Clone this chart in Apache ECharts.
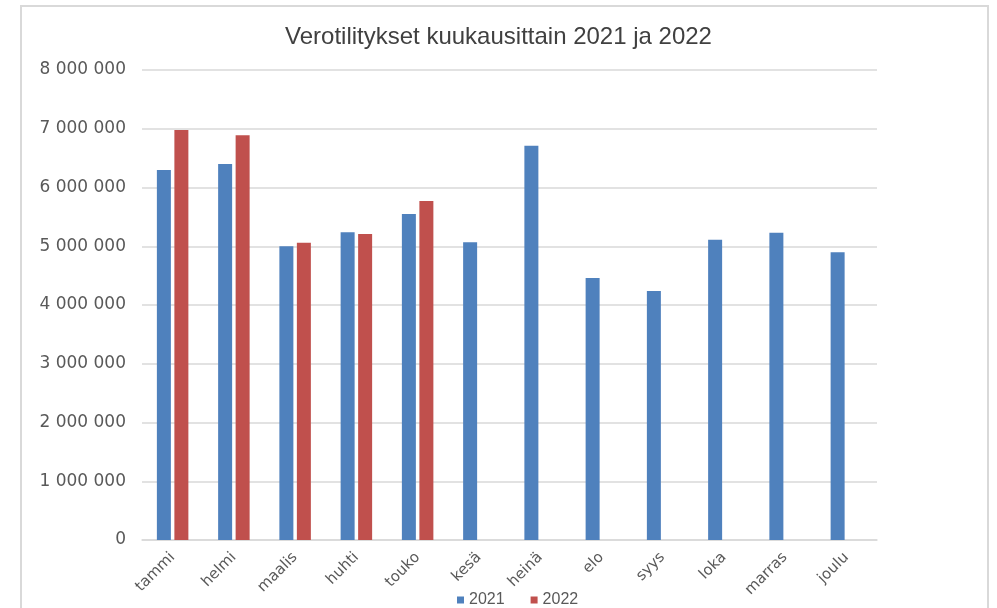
<!DOCTYPE html>
<html>
<head>
<meta charset="utf-8">
<script src="https://cdn.jsdelivr.net/npm/echarts@6/dist/echarts.min.js"></script>
<style>
  html, body { margin: 0; padding: 0; background: #fff; }
  #myChart { width: 997px; height: 608px; }
</style>
</head>
<body>
<div id="myChart"></div>
<script>
// kuukaudet ja tilitykset
var months = ['tammi', 'helmi', 'maalis', 'huhti', 'touko', 'kesä', 'heinä', 'elo', 'syys', 'loka', 'marras', 'joulu']
var values2021 = [6300000, 6400000, 5000000, 5240000, 5550000, 5070000, 6710000, 4460000, 4240000, 5110000, 5230000, 4900000]
var values2022 = [6980000, 6890000, 5060000, 5210000, 5770000, null, null, null, null, null, null, null]
var yTicks = [0, 1000000, 2000000, 3000000, 4000000, 5000000, 6000000, 7000000, 8000000]

function spaced (v) {
  return String(v).replace(/\B(?=(\d{3})+(?!\d))/g, ' ')
}

var myChart = echarts.init(document.getElementById('myChart'))
myChart.setOption({
  animation: false,
  backgroundColor: '#ffffff',
  title: {
    text: 'Verotilitykset kuukausittain 2021 ja 2022',
    left: 'center',
    top: 20,
    textStyle: { fontFamily: 'Liberation Sans', fontSize: 24, fontWeight: 'normal', color: '#404040' }
  },
  graphic: [{
    type: 'rect',
    shape: { x: 21, y: 6, width: 967, height: 640 },
    style: { fill: 'none', stroke: '#d9d9d9', lineWidth: 2 },
    silent: true
  }],
  legend: {
    data: ['2021', '2022'],
    top: 587,
    left: 452,
    itemWidth: 7,
    itemHeight: 7,
    itemGap: 26,
    icon: 'rect',
    textStyle: { fontFamily: 'Liberation Sans', fontSize: 16, color: '#595959' }
  },
  grid: { left: 142, right: 120, top: 70, bottom: 68 },
  xAxis: {
    type: 'category',
    data: months,
    axisLine: { lineStyle: { color: '#d9d9d9', width: 1.5 } },
    axisTick: { show: false },
    axisLabel: {
      rotate: 45,
      interval: 0,
      margin: 15,
      fontFamily: 'DejaVu Sans',
      fontSize: 15,
      color: '#595959'
    }
  },
  yAxis: {
    type: 'value',
    min: yTicks[0],
    max: yTicks[yTicks.length - 1],
    interval: 1000000,
    axisLine: { show: false },
    axisTick: { show: false },
    splitLine: { lineStyle: { color: '#d9d9d9', width: 1.5 } },
    axisLabel: {
      margin: 16,
      fontFamily: 'DejaVu Sans',
      fontSize: 17,
      color: '#595959',
      formatter: spaced
    }
  },
  series: [
    {
      name: '2021',
      type: 'bar',
      data: values2021,
      barWidth: 14,
      barGap: '25%',
      itemStyle: { color: '#4f81bd' }
    },
    {
      name: '2022',
      type: 'bar',
      data: values2022,
      barWidth: 14,
      itemStyle: { color: '#c0504d' }
    }
  ]
})
</script>
</body>
</html>
